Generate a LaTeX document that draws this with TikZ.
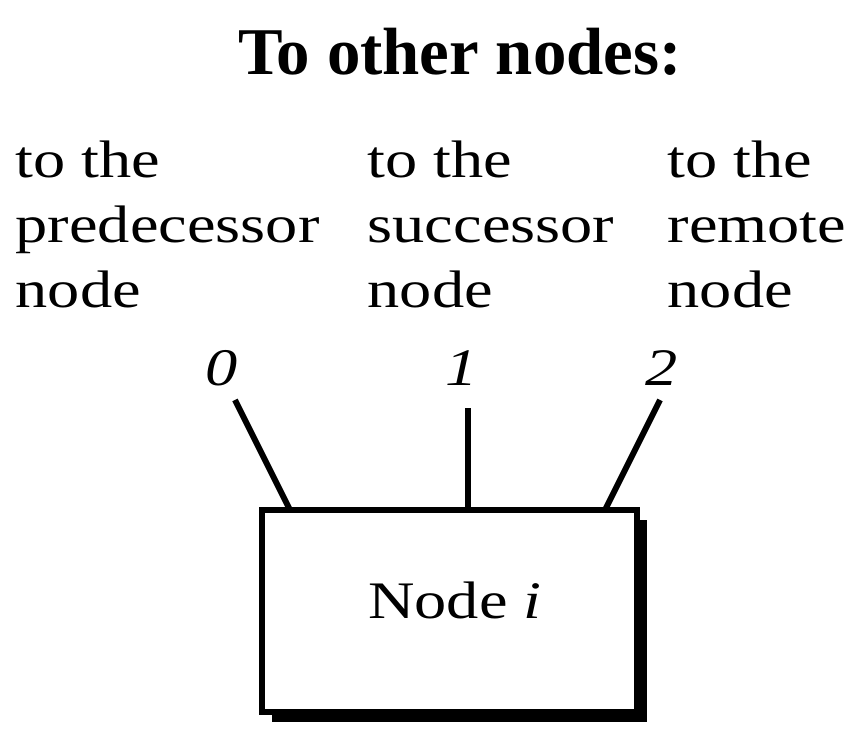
\documentclass[tikz,border=0pt]{standalone}
\usepackage{fontspec}
\setmainfont{Liberation Serif}
\newfontfamily\widefont{Liberation Serif}[FakeStretch=1.22]
\begin{document}
\begin{tikzpicture}[x=0.01cm,y=-0.01cm,
  lbl/.style={anchor=north west,inner sep=0,align=left,font=\widefont\fontsize{15}{18.5}\selectfont},
  port/.style={inner sep=0,font=\widefont\fontsize{15}{18}\selectfont\itshape},
  wire/.style={line width=1.7pt}]
  \useasboundingbox (0,0) rectangle (866,746);
  \node[inner sep=0,font=\fontsize{19}{22}\selectfont\bfseries] (title) at (460,52) {To other nodes:};
  \node[lbl] (l0) at (15,140) {to the\\predecessor\\node};
  \node[lbl] (l1) at (367,140) {to the\\successor\\node};
  \node[lbl] (l2) at (667,140) {to the\\remote\\node};
  % shadow
  \fill (272,520) rectangle (647,722);
  \draw[wire,fill=white] (262,510) rectangle (637,712);
  \node[inner sep=0,font=\widefont\fontsize{15}{18}\selectfont] (box) at (455,600) {Node \textit{i}};
  \coordinate (b0) at (290,510);
  \coordinate (b1) at (468,510);
  \coordinate (b2) at (605,510);
  \node[port] (p0) at (222,368) {0};
  \node[port] (p1) at (462,368) {1};
  \node[port] (p2) at (662,368) {2};
  \coordinate (t0) at (235,400);
  \coordinate (t1) at (468,408);
  \coordinate (t2) at (660,400);
  \draw[wire] (b0) -- (t0);
  \draw[wire] (b1) -- (t1);
  \draw[wire] (b2) -- (t2);
\end{tikzpicture}
\end{document}
